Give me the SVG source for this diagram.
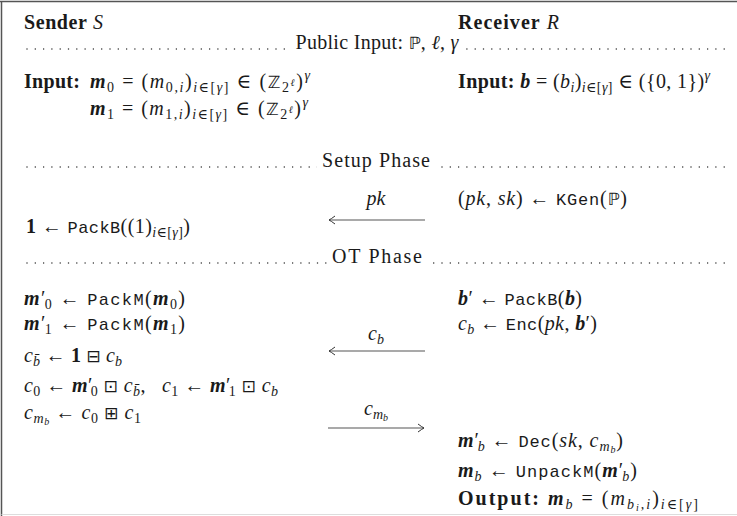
<svg xmlns="http://www.w3.org/2000/svg" width="737" height="516" viewBox="0 0 737 516">
  <style>
    .tx { font-family: "Liberation Serif", "DejaVu Serif", serif; font-size: 20px; fill: #1a1a1a; }
    .bf { font-weight: bold; }
    .it { font-style: italic; }
    .bi { font-weight: bold; font-style: italic; }
    .tt { font-family: "Liberation Mono", "DejaVu Sans Mono", monospace; font-size: 17px; }
    .sb { font-size: 14px; }
    .ss { font-size: 10px; }
    .sym { font-family: "DejaVu Sans", sans-serif; font-size: 17px; }
    .gap { fill: #ffffff; }
    .dots { stroke: #333333; stroke-width: 1.5; stroke-dasharray: 0 8.3; stroke-linecap: round; fill: none; }
    .msg { stroke: #555555; stroke-width: 1.1; fill: none; }
    .frame { stroke: #555555; stroke-width: 1.5; fill: none; }
  </style>
  <defs>
    <marker id="head" viewBox="-8 -5 10 10" refX="0" refY="0" markerWidth="10" markerHeight="10" markerUnits="userSpaceOnUse" orient="auto">
      <path d="M-6,-4 Q-2,-1 0,0 Q-2,1 -6,4" fill="none" stroke="#333333" stroke-width="1"/>
    </marker>
  </defs>

  <rect width="737" height="516" fill="#ffffff"/>

  <!-- outer frame: top and left rules, faint bottom rule -->
  <g id="frame">
    <line class="frame" x1="0" y1="1.5" x2="737" y2="1.5"/>
    <line class="frame" x1="1.5" y1="1" x2="1.5" y2="516"/>
    <line x1="1.5" y1="514.5" x2="737" y2="514.5" stroke="#dddddd" stroke-width="1"/>
  </g>

  <!-- party headers -->
  <g id="sender-header">
    <text class="tx" x="24" y="29" textLength="79" lengthAdjust="spacing"><tspan class="bf">Sender</tspan> <tspan class="it">S</tspan></text>
  </g>
  <g id="receiver-header">
    <text class="tx" x="458" y="29" textLength="101" lengthAdjust="spacing"><tspan class="bf">Receiver</tspan> <tspan class="it">R</tspan></text>
  </g>

  <!-- phase separators: dotted rule with a gap for the title -->
  <g id="public-input">
    <line class="dots" x1="27" y1="49" x2="728" y2="49"/>
    <rect class="gap" x="291" y="40" width="172" height="14"/>
    <text class="tx" x="377" y="49" text-anchor="middle" textLength="163" lengthAdjust="spacing">Public Input: <tspan class="sym">ℙ</tspan>, <tspan class="it">ℓ</tspan>, <tspan class="it">γ</tspan></text>
  </g>
  <g id="setup-phase">
    <line class="dots" x1="27" y1="167" x2="728" y2="167"/>
    <rect class="gap" x="317" y="158" width="118" height="14"/>
    <text class="tx" x="376" y="167" text-anchor="middle" textLength="108" lengthAdjust="spacing">Setup Phase</text>
  </g>
  <g id="ot-phase">
    <line class="dots" x1="27" y1="263" x2="728" y2="263"/>
    <rect class="gap" x="327" y="254" width="100" height="14"/>
    <text class="tx" x="377" y="263" text-anchor="middle" textLength="90" lengthAdjust="spacing">OT Phase</text>
  </g>

  <!-- sender inputs -->
  <g id="sender-input">
    <text class="tx" x="24" y="88" textLength="56" lengthAdjust="spacing"><tspan class="bf">Input:</tspan></text>
    <text class="tx" x="90" y="88" textLength="220" lengthAdjust="spacing"><tspan class="bi">m</tspan><tspan class="sb" dy="4">0</tspan><tspan dy="-4"> = (</tspan><tspan class="it">m</tspan><tspan class="sb" dy="4">0,<tspan class="it">i</tspan></tspan><tspan dy="-4">)</tspan><tspan class="sb" dy="4"><tspan class="it">i</tspan>∈[<tspan class="it">γ</tspan>]</tspan><tspan dy="-4"> ∈ (</tspan><tspan class="sym">ℤ</tspan><tspan class="sb" dy="4">2</tspan><tspan class="ss it" dy="-6">ℓ</tspan><tspan dy="2">)</tspan><tspan class="sb it" dy="-8">γ</tspan></text>
    <text class="tx" x="90" y="115" textLength="218" lengthAdjust="spacing"><tspan class="bi">m</tspan><tspan class="sb" dy="4">1</tspan><tspan dy="-4"> = (</tspan><tspan class="it">m</tspan><tspan class="sb" dy="4">1,<tspan class="it">i</tspan></tspan><tspan dy="-4">)</tspan><tspan class="sb" dy="4"><tspan class="it">i</tspan>∈[<tspan class="it">γ</tspan>]</tspan><tspan dy="-4"> ∈ (</tspan><tspan class="sym">ℤ</tspan><tspan class="sb" dy="4">2</tspan><tspan class="ss it" dy="-6">ℓ</tspan><tspan dy="2">)</tspan><tspan class="sb it" dy="-8">γ</tspan></text>
  </g>

  <!-- receiver input -->
  <g id="receiver-input">
    <text class="tx" x="458" y="88" textLength="252" lengthAdjust="spacing"><tspan class="bf">Input:</tspan> <tspan class="bi">b</tspan> = (<tspan class="it">b</tspan><tspan class="sb it" dy="4">i</tspan><tspan dy="-4">)</tspan><tspan class="sb" dy="4"><tspan class="it">i</tspan>∈[<tspan class="it">γ</tspan>]</tspan><tspan dy="-4"> ∈ ({0, 1})</tspan><tspan class="sb it" dy="-8">γ</tspan></text>
  </g>

  <!-- setup phase steps -->
  <g id="receiver-keygen">
    <text class="tx" x="458" y="205" textLength="169" lengthAdjust="spacing">(<tspan class="it">pk</tspan>, <tspan class="it">sk</tspan>) ← <tspan class="tt">KGen</tspan>(<tspan class="sym">ℙ</tspan>)</text>
  </g>
  <g id="sender-packone">
    <text class="tx" x="26" y="233" textLength="164" lengthAdjust="spacing"><tspan class="bf">1</tspan> ← <tspan class="tt">PackB</tspan>((1)<tspan class="sb" dy="4"><tspan class="it">i</tspan>∈[<tspan class="it">γ</tspan>]</tspan><tspan dy="-4">)</tspan></text>
  </g>

  <!-- OT phase, sender side -->
  <g id="sender-ot">
    <text class="tx" x="24" y="305" textLength="161" lengthAdjust="spacing"><tspan class="bi">m</tspan><tspan>′</tspan><tspan class="sb" dx="-2" dy="4">0</tspan><tspan dy="-4"> ← </tspan><tspan class="tt">PackM</tspan>(<tspan class="bi">m</tspan><tspan class="sb" dy="4">0</tspan><tspan dy="-4">)</tspan></text>
    <text class="tx" x="24" y="330" textLength="161" lengthAdjust="spacing"><tspan class="bi">m</tspan><tspan>′</tspan><tspan class="sb" dx="-2" dy="4">1</tspan><tspan dy="-4"> ← </tspan><tspan class="tt">PackM</tspan>(<tspan class="bi">m</tspan><tspan class="sb" dy="4">1</tspan><tspan dy="-4">)</tspan></text>
    <text class="tx" x="24" y="362" textLength="98" lengthAdjust="spacing"><tspan class="it">c</tspan><tspan class="sb it" dy="4">b̄</tspan><tspan dy="-4"> ← </tspan><tspan class="bf">1</tspan> <tspan class="sym">⊟</tspan> <tspan class="it">c</tspan><tspan class="sb it" dy="4">b</tspan></text>
    <text class="tx" x="24" y="392" textLength="254" lengthAdjust="spacing"><tspan class="it">c</tspan><tspan class="sb" dy="4">0</tspan><tspan dy="-4"> ← </tspan><tspan class="bi">m</tspan><tspan>′</tspan><tspan class="sb" dx="-2" dy="4">0</tspan><tspan dy="-4"> </tspan><tspan class="sym">⊡</tspan> <tspan class="it">c</tspan><tspan class="sb it" dy="4">b̄</tspan><tspan dy="-4">,&#160;&#160;&#160;</tspan><tspan class="it">c</tspan><tspan class="sb" dy="4">1</tspan><tspan dy="-4"> ← </tspan><tspan class="bi">m</tspan><tspan>′</tspan><tspan class="sb" dx="-2" dy="4">1</tspan><tspan dy="-4"> </tspan><tspan class="sym">⊡</tspan> <tspan class="it">c</tspan><tspan class="sb it" dy="4">b</tspan></text>
    <text class="tx" x="24" y="419" textLength="117" lengthAdjust="spacing"><tspan class="it">c</tspan><tspan class="sb it" dy="4">m</tspan><tspan class="ss it" dy="2">b</tspan><tspan dy="-6"> ← </tspan><tspan class="it">c</tspan><tspan class="sb" dy="4">0</tspan><tspan dy="-4"> </tspan><tspan class="sym">⊞</tspan> <tspan class="it">c</tspan><tspan class="sb" dy="4">1</tspan></text>
  </g>

  <!-- OT phase, receiver side -->
  <g id="receiver-ot">
    <text class="tx" x="458" y="305" textLength="124" lengthAdjust="spacing"><tspan class="bi">b</tspan>′ ← <tspan class="tt">PackB</tspan>(<tspan class="bi">b</tspan>)</text>
    <text class="tx" x="458" y="330" textLength="139" lengthAdjust="spacing"><tspan class="it">c</tspan><tspan class="sb it" dy="4">b</tspan><tspan dy="-4"> ← </tspan><tspan class="tt">Enc</tspan>(<tspan class="it">pk</tspan>, <tspan class="bi">b</tspan>′)</text>
  </g>
  <g id="receiver-output">
    <text class="tx" x="458" y="447" textLength="165" lengthAdjust="spacing"><tspan class="bi">m</tspan><tspan>′</tspan><tspan class="sb it" dx="-2" dy="4">b</tspan><tspan dy="-4"> ← </tspan><tspan class="tt">Dec</tspan>(<tspan class="it">sk</tspan>, <tspan class="it">c</tspan><tspan class="sb it" dy="4">m</tspan><tspan class="ss it" dy="2">b</tspan><tspan dy="-6">)</tspan></text>
    <text class="tx" x="458" y="477" textLength="179" lengthAdjust="spacing"><tspan class="bi">m</tspan><tspan class="sb it" dy="4">b</tspan><tspan dy="-4"> ← </tspan><tspan class="tt">UnpackM</tspan>(<tspan class="bi">m</tspan><tspan>′</tspan><tspan class="sb it" dx="-2" dy="4">b</tspan><tspan dy="-4">)</tspan></text>
    <text class="tx" x="458" y="505" textLength="240" lengthAdjust="spacing"><tspan class="bf">Output:</tspan> <tspan class="bi">m</tspan><tspan class="sb it" dy="4">b</tspan><tspan dy="-4"> = (</tspan><tspan class="it">m</tspan><tspan class="sb it" dy="4">b</tspan><tspan class="ss it" dy="2">i</tspan><tspan class="sb" dy="-2">,<tspan class="it">i</tspan></tspan><tspan dy="-4">)</tspan><tspan class="sb" dy="4"><tspan class="it">i</tspan>∈[<tspan class="it">γ</tspan>]</tspan></text>
  </g>

  <!-- messages between the parties -->
  <g id="connectors">
    <line class="msg" x1="425" y1="220" x2="329" y2="220" marker-end="url(#head)"/>
    <text class="tx it" x="376" y="205" text-anchor="middle">pk</text>
    <line class="msg" x1="425" y1="351" x2="329" y2="351" marker-end="url(#head)"/>
    <text class="tx" x="376" y="340" text-anchor="middle"><tspan class="it">c</tspan><tspan class="sb it" dy="4">b</tspan></text>
    <line class="msg" x1="328" y1="428" x2="424" y2="428" marker-end="url(#head)"/>
    <text class="tx" x="376" y="415" text-anchor="middle"><tspan class="it">c</tspan><tspan class="sb it" dy="4">m</tspan><tspan class="ss it" dy="2">b</tspan></text>
  </g>
</svg>
